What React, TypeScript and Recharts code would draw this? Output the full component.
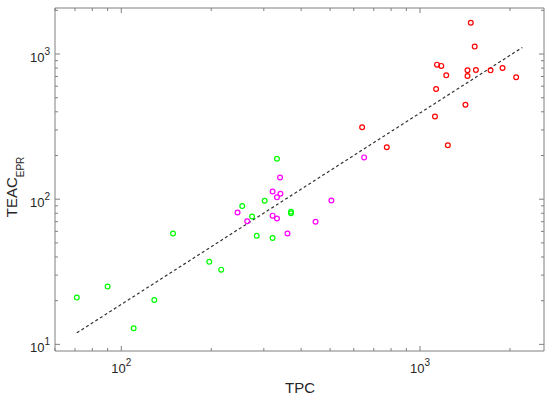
import { Scatter, ScatterChart, XAxis, YAxis } from "recharts";

// TPC vs TEAC(EPR), three groups, log-log
const redTpc = [1479, 1524, 1140, 1178, 1224, 1442, 1442, 1538, 1722, 1889, 2098, 1132, 1419, 1122, 1239, 640, 774];
const redTeac = [1641, 1125, 845, 828, 713, 772, 706, 776, 772, 801, 692, 574, 447, 371, 235, 313, 228];

const magentaTpc = [650, 505, 447, 340, 321, 341, 332, 245, 264, 321, 332, 360];
const magentaTeac = [194, 98, 70, 141, 113, 109, 103, 81, 70.5, 77, 73.6, 58];

const greenTpc = [332, 302, 254, 274, 370, 370, 284, 321, 149, 197, 216, 71, 90, 129, 110];
const greenTeac = [190, 97.5, 89.6, 76, 80, 82, 56, 54, 58, 37, 32.7, 21, 25, 20.2, 12.9];

const fitTpc = [71, 2200];
const fitTeac = [12.0, 1110];

const xTicks = [60, 70, 80, 90, 100, 200, 300, 400, 500, 600, 700, 800, 900, 1000, 2000];
const yTicks = [10, 20, 30, 40, 50, 60, 70, 80, 90, 100, 200, 300, 400, 500, 600, 700, 800, 900, 1000, 2000];

const xDomain = [60, 2600];
const yDomain = [9, 2075];

const axisColor = "#808080";
const font = "'Liberation Sans', Arial, sans-serif";

const toPoints = (xs: number[], ys: number[]) => xs.map((x, i) => ({ tpc: x, teac: ys[i] }));

const isMajor = (v: number) => Math.abs(Math.log10(v) - Math.round(Math.log10(v))) < 1e-9;
const expOf = (v: number) => Math.round(Math.log10(v));

const BottomTick = (props: any) => {
  const { x, y, payload } = props;
  const v = payload.value;
  const major = isMajor(v);
  return (
    <g>
      <line x1={x} x2={x} y1={y} y2={y - (major ? 5 : 3)} stroke={axisColor} />
      {major && (
        <text x={x} y={y + 22} textAnchor="middle" fontSize={13} fill="#262626" fontFamily={font}>
          10<tspan dy={-7} fontSize={10}>{expOf(v)}</tspan>
        </text>
      )}
    </g>
  );
};

const TopTick = (props: any) => {
  const { x, y, payload } = props;
  const major = isMajor(payload.value);
  return <line x1={x} x2={x} y1={y} y2={y + (major ? 5 : 3)} stroke={axisColor} />;
};

const LeftTick = (props: any) => {
  const { x, y, payload } = props;
  const v = payload.value;
  const major = isMajor(v);
  return (
    <g>
      <line x1={x} x2={x + (major ? 5 : 3)} y1={y} y2={y} stroke={axisColor} />
      {major && (
        <text x={x - 5} y={y + 8} textAnchor="end" fontSize={13} fill="#262626" fontFamily={font}>
          10<tspan dy={-7} fontSize={10}>{expOf(v)}</tspan>
        </text>
      )}
    </g>
  );
};

const RightTick = (props: any) => {
  const { x, y, payload } = props;
  const major = isMajor(payload.value);
  return <line x1={x} x2={x - (major ? 5 : 3)} y1={y} y2={y} stroke={axisColor} />;
};

const ringShape = (color: string) => (props: any) => (
  <circle cx={props.cx} cy={props.cy} r={2.4} fill="none" stroke={color} strokeWidth={1.2} />
);

const App = () => {
  return (
    <div style={{ position: "absolute", left: 0, top: 0, background: "#fff" }}>
      <ScatterChart
        width={550}
        height={398}
        margin={{ top: 7, right: 5, bottom: 0, left: 0 }}
        style={{ fontFamily: font }}
      >
        <XAxis
          dataKey="tpc"
          type="number"
          scale="log"
          domain={xDomain}
          allowDataOverflow
          ticks={xTicks}
          interval={0}
          height={47}
          tickSize={0}
          tickMargin={0}
          tickLine={false}
          stroke={axisColor}
          tick={<BottomTick />}
        />
        <XAxis
          xAxisId="top"
          orientation="top"
          dataKey="tpc"
          type="number"
          scale="log"
          domain={xDomain}
          allowDataOverflow
          ticks={xTicks}
          interval={0}
          height={1}
          tickSize={0}
          tickMargin={0}
          tickLine={false}
          stroke={axisColor}
          tick={<TopTick />}
        />
        <YAxis
          dataKey="teac"
          type="number"
          scale="log"
          domain={yDomain}
          allowDataOverflow
          ticks={yTicks}
          interval={0}
          width={55}
          tickSize={0}
          tickMargin={0}
          tickLine={false}
          stroke={axisColor}
          tick={<LeftTick />}
        />
        <YAxis
          yAxisId="right"
          orientation="right"
          dataKey="teac"
          type="number"
          scale="log"
          domain={yDomain}
          allowDataOverflow
          ticks={yTicks}
          interval={0}
          width={1}
          tickSize={0}
          tickMargin={0}
          tickLine={false}
          stroke={axisColor}
          tick={<RightTick />}
        />
        <Scatter
          xAxisId="top"
          yAxisId="right"
          data={toPoints(fitTpc, fitTeac)}
          line={{ stroke: "#333", strokeWidth: 1.2, strokeDasharray: "3 2.5" }}
          shape={() => <g />}
          isAnimationActive={false}
        />
        <Scatter data={toPoints(redTpc, redTeac)} shape={ringShape("#ff0000")} isAnimationActive={false} />
        <Scatter data={toPoints(magentaTpc, magentaTeac)} shape={ringShape("#ff00ff")} isAnimationActive={false} />
        <Scatter data={toPoints(greenTpc, greenTeac)} shape={ringShape("#00ff00")} isAnimationActive={false} />
        <text x={300} y={393} textAnchor="middle" fontSize={15} fill="#262626" fontFamily={font}>
          TPC
        </text>
        <text
          x={17}
          y={187}
          transform="rotate(-90 17 187)"
          textAnchor="middle"
          fontSize={15}
          fill="#262626"
          fontFamily={font}
        >
          TEAC<tspan dy={7} fontSize={10}>EPR</tspan>
        </text>
      </ScatterChart>
    </div>
  );
};

export default App;
